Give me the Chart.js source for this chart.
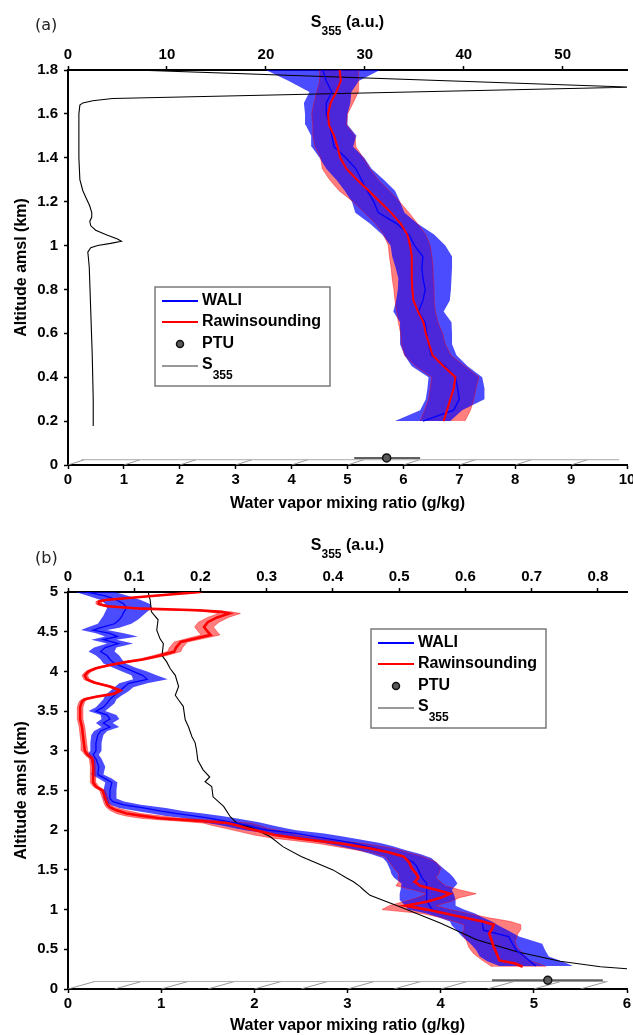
<!DOCTYPE html>
<html><head><meta charset="utf-8">
<script src="https://cdn.jsdelivr.net/npm/chart.js@4.4.1/dist/chart.umd.min.js"></script>
<style>
html,body{margin:0;padding:0;background:#fff;}
#wrap{position:relative;width:633px;height:1035px;overflow:hidden;}
canvas{position:absolute;left:0;}
#ca{top:0;width:633px;height:517px;}
#cb{top:517px;width:633px;height:518px;}
</style></head><body>
<div id="wrap"><canvas id="ca" width="633" height="517"></canvas><canvas id="cb" width="633" height="518"></canvas></div>
<script>
// ---------------- Panel (a) data ----------------
const altA = [0.2,0.25,0.3,0.35,0.4,0.45,0.5,0.55,0.6,0.65,0.7,0.75,0.8,0.85,0.9,0.95,1,1.05,1.1,1.15,1.2,1.25,1.3,1.35,1.4,1.45,1.5,1.55,1.6,1.65,1.7,1.75,1.8];
const waliA   = [6.35,6.90,7.00,6.97,6.93,6.75,6.50,6.45,6.42,6.39,6.27,6.35,6.39,6.35,6.33,6.35,6.20,6.10,5.88,5.55,5.47,5.35,5.25,5.15,4.97,4.76,4.72,4.68,4.62,4.62,4.72,4.62,4.56];
const waliLoA = [5.85,6.30,6.40,6.43,6.45,6.15,6.02,5.94,5.94,5.94,5.82,5.87,5.90,5.91,5.86,5.80,5.77,5.62,5.40,5.14,5.08,4.95,4.80,4.62,4.50,4.36,4.35,4.25,4.24,4.22,4.32,3.95,3.54];
const waliHiA = [6.84,7.05,7.45,7.45,7.41,7.15,6.95,6.87,6.87,6.86,6.72,6.83,6.85,6.86,6.87,6.87,6.75,6.55,6.25,6.02,5.94,5.85,5.65,5.43,5.30,5.10,5.16,5.00,5.00,5.05,5.07,5.20,5.58];
const rawA    = [6.72,6.78,6.84,6.90,6.93,6.72,6.52,6.46,6.40,6.36,6.26,6.18,6.16,6.15,6.15,6.15,6.12,6.07,5.95,5.78,5.58,5.38,5.17,4.98,4.87,4.82,4.76,4.67,4.65,4.70,4.80,4.88,4.86];
const rawLoA  = [6.30,6.38,6.45,6.48,6.51,6.22,6.02,5.97,5.95,5.91,5.88,5.85,5.83,5.80,5.78,5.75,5.73,5.65,5.50,5.30,5.10,4.85,4.68,4.55,4.52,4.42,4.38,4.38,4.36,4.40,4.45,4.50,4.50];
const rawHiA  = [7.10,7.20,7.26,7.30,7.35,7.10,6.85,6.75,6.70,6.62,6.57,6.55,6.55,6.54,6.53,6.51,6.48,6.40,6.25,6.10,5.93,5.75,5.55,5.40,5.28,5.15,5.13,4.98,5.00,5.10,5.19,5.20,5.20];
const sAltA = [0.18,0.3,0.5,0.7,0.9,0.95,0.97,0.99,1.0,1.01,1.02,1.03,1.05,1.07,1.09,1.11,1.13,1.15,1.18,1.21,1.25,1.3,1.4,1.5,1.6,1.64,1.65,1.66,1.67,1.722,1.8];
const sValA = [2.6,2.55,2.45,2.3,2.15,2.05,2.0,2.3,3.0,4.3,5.4,5.0,3.8,2.8,2.3,2.2,2.4,2.4,2.2,1.9,1.5,1.2,1.1,1.1,1.1,1.2,1.5,2.5,4.5,57,6.7];
const ptuA = [5.70, 0.032];          // value, altitude
const ptuErrA = [5.12, 6.30];
const groundA = [0.24, 9.86, 0.024]; // from, to, altitude
const hatchA = [0,1,2,3,4,5,6,7,8,9];
const xTicksA = [0,1,2,3,4,5,6,7,8,9,10];
const x2TicksA = [0,10,20,30,40,50];
const yTicksA = [0,0.2,0.4,0.6,0.8,1,1.2,1.4,1.6,1.8];

// ---------------- Panel (b) data ----------------
const altWB = [0.29,0.35,0.41,0.49,0.57,0.66,0.74,0.80,0.85,0.90,0.95,1.00,1.05,1.12,1.20,1.25,1.33,1.40,1.45,1.50,1.55,1.60,1.65,1.70,1.75,1.80,1.84,1.88,1.92,1.96,2.00,2.02,2.06,2.10,2.15,2.18,2.21,2.24,2.28,2.32,2.36,2.40,2.50,2.60,2.65,2.70,2.80,2.90,2.95,3.00,3.10,3.20,3.25,3.30,3.35,3.40,3.45,3.50,3.55,3.60,3.65,3.70,3.75,3.80,3.85,3.90,3.95,4.00,4.05,4.10,4.15,4.20,4.25,4.30,4.35,4.40,4.44,4.48,4.52,4.55,4.60,4.65,4.70,4.75,4.80,4.85,4.90,4.95,5.00];
const waliB = [5.02,4.96,4.90,4.81,4.77,4.73,4.46,4.45,4.45,4.22,4.05,3.91,3.88,3.85,3.85,3.85,3.85,3.80,3.78,3.76,3.74,3.70,3.62,3.50,3.37,3.20,3.05,2.85,2.65,2.45,2.14,2.05,1.93,1.75,1.53,1.35,1.17,1.00,0.81,0.60,0.48,0.45,0.45,0.47,0.40,0.32,0.33,0.30,0.27,0.30,0.30,0.32,0.35,0.45,0.38,0.45,0.42,0.30,0.38,0.42,0.45,0.50,0.55,0.60,0.65,0.85,0.80,0.70,0.60,0.50,0.45,0.42,0.35,0.40,0.54,0.38,0.53,0.45,0.27,0.35,0.50,0.55,0.58,0.60,0.63,0.60,0.52,0.40,0.20];
const waliLoB = [4.63,4.50,4.42,4.38,4.32,4.23,4.17,4.12,4.10,3.98,3.85,3.65,3.62,3.56,3.56,3.57,3.58,3.50,3.47,3.46,3.44,3.42,3.38,3.25,3.10,2.90,2.75,2.55,2.35,2.15,1.90,1.80,1.65,1.45,1.25,1.05,0.90,0.75,0.55,0.45,0.40,0.38,0.38,0.40,0.33,0.25,0.27,0.24,0.21,0.24,0.24,0.25,0.28,0.36,0.30,0.36,0.35,0.22,0.30,0.34,0.38,0.40,0.45,0.50,0.55,0.70,0.68,0.58,0.48,0.38,0.35,0.30,0.22,0.28,0.42,0.25,0.40,0.30,0.14,0.20,0.32,0.35,0.38,0.40,0.42,0.40,0.35,0.22,0.08];
const waliHiB = [5.42,5.30,5.16,5.12,5.09,4.84,4.72,4.62,4.55,4.45,4.37,4.25,4.16,4.16,4.14,4.12,4.18,4.14,4.10,4.05,4.00,3.95,3.90,3.78,3.62,3.48,3.35,3.15,2.95,2.75,2.45,2.35,2.20,2.05,1.80,1.65,1.45,1.25,1.05,0.78,0.60,0.52,0.52,0.53,0.47,0.38,0.40,0.36,0.33,0.36,0.36,0.38,0.42,0.55,0.48,0.55,0.52,0.40,0.45,0.50,0.52,0.58,0.65,0.70,0.85,1.07,0.95,0.85,0.72,0.62,0.58,0.55,0.50,0.52,0.70,0.52,0.75,0.60,0.42,0.55,0.68,0.75,0.80,0.85,0.90,0.88,0.78,0.65,0.50];
const altRB = [0.28,0.32,0.36,0.45,0.53,0.60,0.70,0.75,0.81,0.85,0.90,0.95,1.00,1.05,1.10,1.15,1.20,1.25,1.30,1.35,1.40,1.45,1.52,1.60,1.67,1.72,1.77,1.83,1.87,1.90,1.94,1.98,2.02,2.06,2.09,2.11,2.13,2.15,2.18,2.21,2.25,2.29,2.33,2.40,2.50,2.55,2.60,2.70,2.80,2.90,2.95,3.00,3.10,3.30,3.40,3.55,3.62,3.65,3.68,3.72,3.76,3.81,3.86,3.90,3.95,4.00,4.04,4.08,4.12,4.15,4.20,4.25,4.30,4.37,4.42,4.46,4.50,4.56,4.62,4.68,4.73,4.75,4.77,4.79,4.82,4.85,4.88,4.90,4.95,5.00];
const rawB = [4.88,4.80,4.63,4.60,4.57,4.55,4.52,4.55,4.57,4.45,4.25,4.05,3.85,3.62,3.85,4.00,4.10,3.95,3.78,3.72,3.76,3.74,3.69,3.66,3.60,3.45,3.25,2.95,2.65,2.45,2.22,2.08,1.93,1.82,1.71,1.50,1.25,0.99,0.80,0.63,0.52,0.45,0.42,0.40,0.37,0.30,0.27,0.27,0.27,0.26,0.21,0.18,0.17,0.15,0.13,0.13,0.15,0.18,0.30,0.50,0.56,0.45,0.28,0.20,0.18,0.22,0.30,0.45,0.63,0.80,0.99,1.14,1.16,1.21,1.39,1.53,1.50,1.46,1.50,1.60,1.73,1.65,1.40,0.80,0.42,0.33,0.33,0.40,0.90,1.42];
const rawLoB = [4.55,4.50,4.45,4.35,4.30,4.28,4.23,4.25,4.25,4.15,4.00,3.80,3.37,3.45,3.60,3.75,3.85,3.70,3.52,3.55,3.55,3.55,3.50,3.45,3.40,3.25,3.00,2.70,2.42,2.20,2.00,1.85,1.70,1.55,1.45,1.25,1.00,0.78,0.62,0.52,0.45,0.41,0.39,0.37,0.34,0.27,0.24,0.24,0.24,0.23,0.18,0.15,0.14,0.12,0.10,0.10,0.12,0.15,0.27,0.47,0.53,0.42,0.25,0.17,0.15,0.19,0.27,0.42,0.60,0.75,0.92,1.07,1.09,1.14,1.30,1.43,1.40,1.36,1.40,1.50,1.62,1.50,1.25,0.70,0.38,0.30,0.30,0.37,0.87,1.39];
const rawHiB = [5.13,5.05,4.95,4.88,4.82,4.80,4.83,4.86,4.86,4.75,4.50,4.30,4.10,3.95,4.10,4.20,4.38,4.20,4.05,4.00,3.95,3.98,4.00,3.95,3.80,3.65,3.50,3.20,2.90,2.70,2.45,2.35,2.15,2.05,1.95,1.75,1.50,1.20,1.00,0.78,0.62,0.50,0.45,0.43,0.40,0.33,0.30,0.30,0.30,0.29,0.24,0.21,0.20,0.18,0.16,0.16,0.18,0.21,0.33,0.53,0.59,0.48,0.31,0.23,0.21,0.25,0.33,0.48,0.66,0.85,1.06,1.21,1.23,1.28,1.48,1.63,1.60,1.56,1.62,1.72,1.85,1.75,1.50,0.90,0.48,0.36,0.36,0.43,0.93,1.45];
const sAltB = [0.255,0.28,0.35,0.47,0.62,0.83,1.04,1.18,1.25,1.29,1.35,1.40,1.50,1.64,1.67,1.79,1.92,2.02,2.09,2.17,2.30,2.42,2.55,2.61,2.67,2.76,2.88,3.01,3.10,3.18,3.30,3.39,3.56,3.64,3.70,3.81,3.95,4.04,4.12,4.20,4.35,4.41,4.52,4.65,4.75,4.90,5.00];
const sValB = [0.845,0.804,0.743,0.678,0.617,0.562,0.500,0.456,0.446,0.441,0.431,0.420,0.400,0.360,0.352,0.325,0.305,0.280,0.255,0.245,0.235,0.219,0.217,0.207,0.214,0.204,0.196,0.194,0.192,0.187,0.182,0.177,0.174,0.167,0.162,0.167,0.162,0.154,0.149,0.142,0.144,0.139,0.134,0.136,0.126,0.124,0.121];
const ptuB = [5.15, 0.11];
const ptuErrB = [4.55, 5.74];
const groundB = [0.27, 5.77, 0.095];
const hatchB = [0,0.5,1,1.5,2,2.5,3,3.5,4,4.5,5,5.5];
const xTicksB = [0,1,2,3,4,5,6];
const x2TicksB = [0,0.1,0.2,0.3,0.4,0.5,0.6,0.7,0.8];
const yTicksB = [0,0.5,1,1.5,2,2.5,3,3.5,4,4.5,5];

const legendLabels = ['WALI','Rawinsounding','PTU','S','355'];

// ---------------- helpers ----------------
const F = '"Liberation Sans", Arial, sans-serif';
const pts = (xs, ys) => xs.map((x, i) => ({x: x, y: ys[i]}));
const band = (lo, hi, alts) => pts(lo, alts).concat(pts(hi, alts).reverse());
const hatchPts = (starts, dx, alt) => {
  const out = [];
  starts.forEach(h => { out.push({x: h, y: 0}); out.push({x: h + dx, y: alt}); out.push({x: NaN, y: NaN}); });
  return out;
};
const fmt = v => String(+v.toFixed(2));

function makeDatasets(o) {
  return [
    {data: [{x: o.ptu[0], y: o.ptu[1]}], showLine: false, pointRadius: 4, pointBackgroundColor: '#5a5a5a', pointBorderColor: '#111', pointBorderWidth: 1.5},
    {data: [{x: o.ptuErr[0], y: o.ptu[1]}, {x: o.ptuErr[1], y: o.ptu[1]}], borderColor: '#5f5f5f', borderWidth: 2.2, pointRadius: 0},
    {data: pts(o.raw, o.altR), borderColor: '#ff0000', borderWidth: o.rawW, pointRadius: 0},
    {data: pts(o.wali, o.altW), borderColor: '#0000ff', borderWidth: 1.3, pointRadius: 0},
    {data: pts(o.sVal, o.sAlt), xAxisID: 'x2', borderColor: '#000', borderWidth: 1.1, pointRadius: 0},
    {data: pts(o.rawLo, o.altR), borderColor: 'rgba(255,0,0,0.55)', borderWidth: 0.8, pointRadius: 0},
    {data: pts(o.rawHi, o.altR), borderColor: 'rgba(255,0,0,0.55)', borderWidth: 0.8, pointRadius: 0},
    {data: band(o.waliLo, o.waliHi, o.altW), fill: 'shape', backgroundColor: 'rgba(0,0,255,0.7)', borderWidth: 0, pointRadius: 0},
    {data: band(o.rawLo, o.rawHi, o.altR), fill: 'shape', backgroundColor: 'rgba(255,0,0,0.5)', borderWidth: 0, pointRadius: 0},
    {data: [{x: o.ground[0], y: o.ground[2]}, {x: o.ground[1], y: o.ground[2]}], borderColor: '#aaaaaa', borderWidth: 1, pointRadius: 0},
    {data: hatchPts(o.hatch, o.hatchDx, o.ground[2]), borderColor: '#8c8c8c', borderWidth: 0.9, pointRadius: 0}
  ];
}

function decorPlugin(o) {
  return {
    id: 'decor',
    afterDraw(chart) {
      const c = chart.ctx, ca = chart.chartArea;
      c.save();
      c.textAlign = 'left'; c.textBaseline = 'middle';
      c.fillStyle = '#222'; c.font = '16px "DejaVu Sans"';
      c.fillText(o.panel, 35, o.panelY);
      // top axis title with subscript
      const big = 'bold 16px ' + F, small = 'bold 12px ' + F;
      c.fillStyle = '#000';
      c.font = big; const wS = c.measureText('S').width, wR = c.measureText(' (a.u.)').width;
      c.font = small; const wN = c.measureText('355').width;
      let x = (ca.left + ca.right) / 2 - (wS + wN + wR) / 2;
      c.font = big; c.fillText('S', x, o.titleY);
      c.font = small; c.fillText('355', x + wS, o.titleY + 9);
      c.font = big; c.fillText(' (a.u.)', x + wS + wN, o.titleY);
      // legend
      const bx = o.lx, by = o.ly;
      c.fillStyle = '#fff'; c.fillRect(bx, by, 175, 99);
      c.strokeStyle = '#7a7a7a'; c.lineWidth = 1.5; c.strokeRect(bx, by, 175, 99);
      const seg = (yy, col, w) => { c.beginPath(); c.strokeStyle = col; c.lineWidth = w; c.moveTo(bx + 7, yy); c.lineTo(bx + 43, yy); c.stroke(); };
      seg(by + 14, '#0000ff', 2); seg(by + 35, '#ff0000', 2); seg(by + 79, '#333', 1.2);
      c.beginPath(); c.arc(bx + 25, by + 57, 3.5, 0, Math.PI * 2);
      c.fillStyle = '#5a5a5a'; c.fill(); c.strokeStyle = '#111'; c.lineWidth = 1.5; c.stroke();
      c.fillStyle = '#000'; c.font = big;
      c.fillText(legendLabels[0], bx + 47, by + 14);
      c.fillText(legendLabels[1], bx + 47, by + 35);
      c.fillText(legendLabels[2], bx + 47, by + 57);
      c.fillText(legendLabels[3], bx + 47, by + 78);
      const ws2 = c.measureText(legendLabels[3]).width;
      c.font = small; c.fillText(legendLabels[4], bx + 47 + ws2, by + 89);
      c.restore();
    }
  };
}

function axisX(pos, min, max, ticks, h, title, titlePad) {
  const a = {
    type: 'linear', position: pos, min: min, max: max,
    afterBuildTicks: s => { s.ticks = ticks.map(v => ({value: v})); },
    afterFit: s => { s.height = h; s.paddingLeft = 0; s.paddingRight = 0; },
    grid: {drawOnChartArea: false, drawTicks: true, tickLength: 4, tickColor: '#000', tickWidth: 1.5},
    border: {display: true, color: '#000', width: 2},
    ticks: {color: '#000', padding: 2, maxRotation: 0, autoSkip: false, font: {family: F, size: 15, weight: 'bold'}, callback: fmt}
  };
  if (title) a.title = {display: true, text: title, color: '#000', font: {family: F, size: 16, weight: 'bold'}, padding: {top: 0, bottom: titlePad}};
  return a;
}
function axisY(min, max, ticks) {
  return {
    type: 'linear', position: 'left', min: min, max: max,
    afterBuildTicks: s => { s.ticks = ticks.map(v => ({value: v})); },
    afterFit: s => { s.width = 68; s.paddingTop = 0; s.paddingBottom = 0; },
    grid: {drawOnChartArea: false, drawTicks: true, tickLength: 4, tickColor: '#000', tickWidth: 1.5},
    border: {display: true, color: '#000', width: 2},
    ticks: {color: '#000', padding: 6, autoSkip: false, font: {family: F, size: 15, weight: 'bold'}, callback: fmt},
    title: {display: true, text: 'Altitude amsl (km)', color: '#000', font: {family: F, size: 16, weight: 'bold'}, padding: {top: 12, bottom: 0}}
  };
}

function build(id, o) {
  return new Chart(document.getElementById(id), {
    type: 'line',
    data: {datasets: makeDatasets(o)},
    options: {
      responsive: false, animation: false, devicePixelRatio: 1,
      layout: {padding: {left: 0, right: 6, top: 0, bottom: 0}},
      elements: {line: {tension: 0}},
      plugins: {legend: {display: false}, tooltip: {enabled: false}},
      scales: {
        x: axisX('bottom', 0, o.xMax, o.xTicks, o.bottomH, 'Water vapor mixing ratio (g/kg)', o.titlePad),
        x2: axisX('top', 0, o.x2Max, o.x2Ticks, o.topH, null, 0),
        y: axisY(0, o.yMax, o.yTicks)
      }
    },
    plugins: [decorPlugin(o)]
  });
}

build('ca', {
  altW: altA, wali: waliA, waliLo: waliLoA, waliHi: waliHiA,
  altR: altA, raw: rawA, rawLo: rawLoA, rawHi: rawHiA, rawW: 2,
  sAlt: sAltA, sVal: sValA, ptu: ptuA, ptuErr: ptuErrA, ground: groundA, hatch: hatchA, hatchDx: 0.29,
  xMax: 10, xTicks: xTicksA, x2Max: 56.5, x2Ticks: x2TicksA, yMax: 1.8, yTicks: yTicksA,
  bottomH: 52, topH: 70, titlePad: 3.4,
  panel: '(a)', panelY: 26, titleY: 22.5, lx: 155, ly: 287
});
build('cb', {
  altW: altWB, wali: waliB, waliLo: waliLoB, waliHi: waliHiB,
  altR: altRB, raw: rawB, rawLo: rawLoB, rawHi: rawHiB, rawW: 2.6,
  sAlt: sAltB, sVal: sValB, ptu: ptuB, ptuErr: ptuErrB, ground: groundB, hatch: hatchB, hatchDx: 0.29,
  xMax: 6, xTicks: xTicksB, x2Max: 0.844, x2Ticks: x2TicksB, yMax: 5, yTicks: yTicksB,
  bottomH: 46, topH: 75, titlePad: 0,
  panel: '(b)', panelY: 42, titleY: 29, lx: 371, ly: 112
});
</script></body></html>
